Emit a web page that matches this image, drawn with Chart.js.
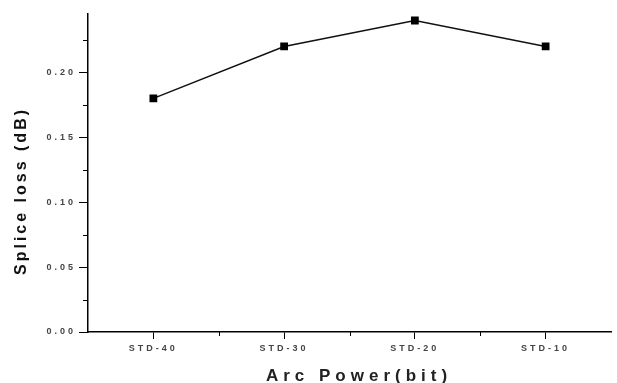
<!DOCTYPE html>
<html>
<head>
<meta charset="utf-8">
<script src="https://cdn.jsdelivr.net/npm/chart.js@4.4.0/dist/chart.umd.min.js"></script>
<style>
  html, body { margin: 0; padding: 0; background: #fff; }
  #wrap { width: 617px; height: 383px; position: relative; }
</style>
</head>
<body>
<div id="wrap"><canvas id="chart"></canvas></div>
<script>
const categories = ['STD-40', 'STD-30', 'STD-20', 'STD-10'];
const spliceLoss = [0.18, 0.22, 0.24, 0.22];
const yTickValues = [0, 0.05, 0.10, 0.15, 0.20];
const yMinorValues = [0.025, 0.075, 0.125, 0.175, 0.225];

const FONT = '"Liberation Sans", Arial, sans-serif';

// minor tick marks + spaced-out axis titles, drawn the way Origin does them
const axisExtras = {
    id: 'axisExtras',
    beforeDraw(chart) {
        chart.ctx.letterSpacing = '3px';
    },
    afterDraw(chart) {
        const ctx = chart.ctx;
        const x = chart.scales.x;
        const y = chart.scales.y;
        const area = chart.chartArea;
        ctx.save();
        ctx.strokeStyle = '#000';
        ctx.lineWidth = 1;
        ctx.beginPath();
        yMinorValues.forEach(v => {
            const py = Math.round(y.getPixelForValue(v)) + 0.5;
            ctx.moveTo(area.left - 5, py);
            ctx.lineTo(area.left, py);
        });
        const half = (x.getPixelForValue(1) - x.getPixelForValue(0)) / 2;
        for (let i = 0; i < categories.length - 1; i++) {
            const px = Math.round(x.getPixelForValue(i) + half) + 0.5;
            ctx.moveTo(px, area.bottom);
            ctx.lineTo(px, area.bottom + 4);
        }
        ctx.stroke();

        ctx.fillStyle = '#222';
        ctx.letterSpacing = '5px';
        ctx.font = 'bold 17px ' + FONT;
        ctx.textAlign = 'center';
        ctx.textBaseline = 'alphabetic';
        ctx.fillText('Arc Power(bit)', 359, 381);

        ctx.fillStyle = '#111';
        ctx.letterSpacing = '3px';
        ctx.font = 'bold 16px ' + FONT;
        ctx.translate(26, 191);
        ctx.rotate(-Math.PI / 2);
        ctx.fillText('Splice loss (dB)', 0, 0);
        ctx.restore();
        ctx.letterSpacing = '0px';
    }
};

new Chart(document.getElementById('chart'), {
    type: 'line',
    data: {
        labels: categories,
        datasets: [{
            data: spliceLoss,
            borderColor: '#111',
            borderWidth: 1.5,
            pointStyle: 'rect',
            pointRadius: 5.5,
            pointBackgroundColor: '#000',
            pointBorderWidth: 0,
            tension: 0
        }]
    },
    options: {
        responsive: true,
        maintainAspectRatio: false,
        animation: false,
        events: [],
        layout: { padding: { top: 14, right: 6, left: 0, bottom: 0 } },
        plugins: {
            legend: { display: false },
            tooltip: { enabled: false }
        },
        scales: {
            x: {
                offset: true,
                afterFit: scale => { scale.height = 51; },
                grid: {
                    offset: false,
                    drawOnChartArea: false,
                    color: '#000',
                    tickLength: 7,
                    tickWidth: 1
                },
                border: { display: true, color: '#000', width: 1.5 },
                ticks: {
                    color: '#444',
                    padding: 4,
                    font: { family: FONT, size: 9, weight: 'bold' },
                    maxRotation: 0
                }
            },
            y: {
                min: 0,
                max: 0.245,
                afterFit: scale => { scale.width = 88; },
                afterBuildTicks: scale => {
                    scale.ticks = yTickValues.map(v => ({ value: v }));
                },
                grid: {
                    drawOnChartArea: false,
                    color: '#000',
                    tickLength: 9,
                    tickWidth: 1
                },
                border: { display: true, color: '#000', width: 1.5 },
                ticks: {
                    color: '#444',
                    padding: 3,
                    font: { family: FONT, size: 9, weight: 'bold' },
                    callback: v => v.toFixed(2)
                }
            }
        }
    },
    plugins: [axisExtras]
});
</script>
</body>
</html>
